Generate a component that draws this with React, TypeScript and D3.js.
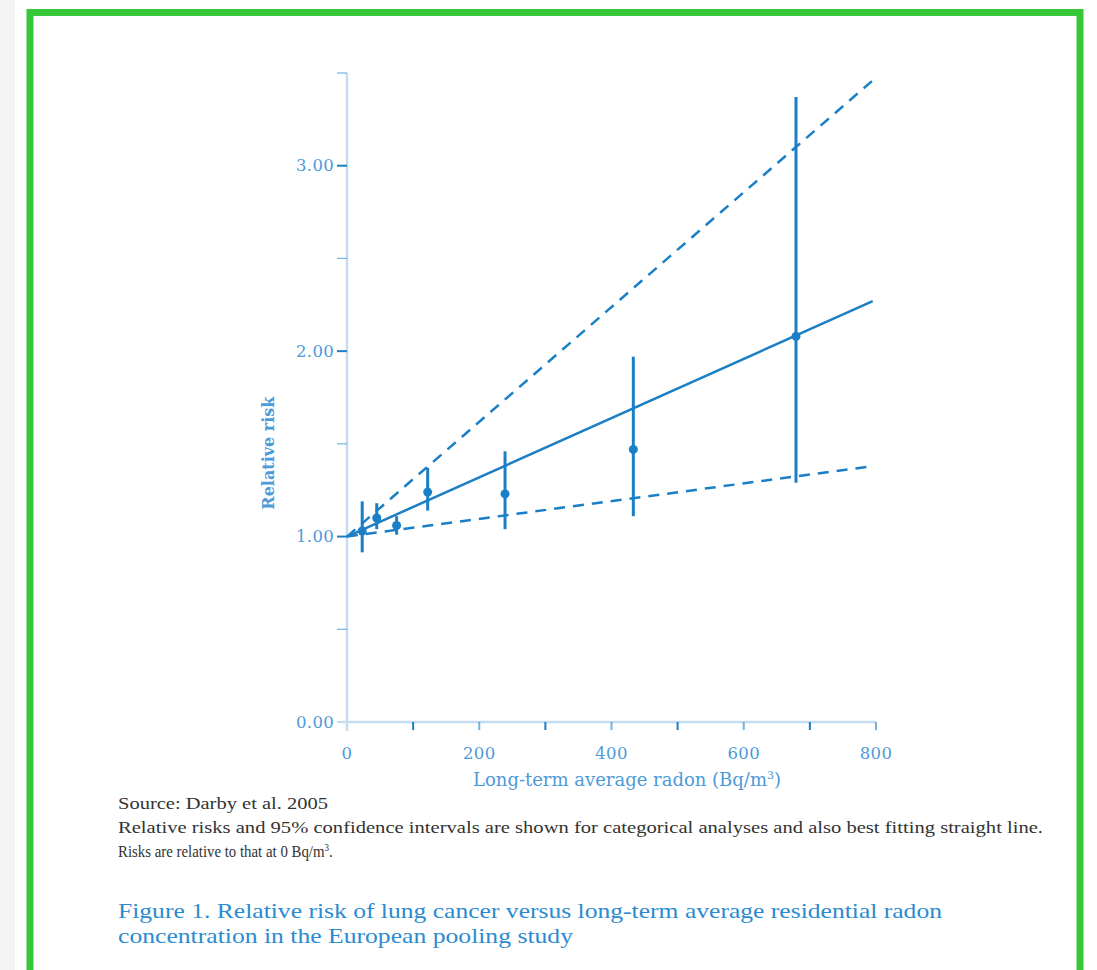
import React from "react";
import * as d3 from "d3";

const W = 1097;
const H = 970;

// Categorical estimates: radon (Bq/m3), RR, lower 95% CI, upper 95% CI
const radon = [23, 45, 75, 122, 239, 433, 679];
const rr = [1.03, 1.1, 1.06, 1.24, 1.23, 1.47, 2.08];
const ciLow = [0.915, 1.04, 1.01, 1.14, 1.04, 1.11, 1.29];
const ciHigh = [1.19, 1.18, 1.11, 1.37, 1.46, 1.97, 3.37];

// Best fitting line and its CI (endpoints)
const fitX = [0, 795];
const fitMid = [1.0, 2.27];
const fitUpper = [1.0, 3.46];
const fitLower = [1.0, 1.38];

const yTicks = [0, 0.5, 1, 1.5, 2, 2.5, 3, 3.5];
const yLabelled = [0, 1, 2, 3];
const xTicks = [0, 100, 200, 300, 400, 500, 600, 700, 800];
const xLabelled = [0, 200, 400, 600, 800];

const captionLines = [
  "Source: Darby et al. 2005",
  "Relative risks and 95% confidence intervals are shown for categorical analyses and also best fitting straight line.",
];
const titleLines = [
  "Figure 1. Relative risk of lung cancer versus long-term average residential radon",
  "concentration in the European pooling study",
];

const BLUE = "#1b7fc6";
const AXIS = "#c6dcf0";
const LABEL = "#4d9ad8";

export default function App() {
  const x = d3.scaleLinear().domain([0, 800]).range([347, 876]);
  const y = d3.scaleLinear().domain([0, 3.5]).range([722, 73]);
  const line = d3
    .line<number>()
    .x((_, i) => x(fitX[i]))
    .y((d) => y(d));

  const serif = "'Liberation Serif', 'DejaVu Serif', serif";
  const wide = "'DejaVu Serif', serif";

  return (
    <svg
      width={W}
      height={H}
      style={{ position: "absolute", left: 0, top: 0, background: "#fff" }}
      fontFamily={serif}
    >
      <rect x={0} y={0} width={15} height={H} fill="#f4f4f4" />
      <rect x={30} y={12.5} width={1050} height={H + 20} fill="none" stroke="#36c836" strokeWidth={7} />

      {/* axes */}
      <line x1={x(0)} x2={x(0)} y1={y(3.5)} y2={731} stroke={AXIS} strokeWidth={2.5} />
      <line x1={342} x2={x(800)} y1={y(0)} y2={y(0)} stroke={AXIS} strokeWidth={2.5} />
      {yTicks.map((t) => (
        <line key={"yt" + t} x1={x(0) - 10} x2={x(0)} y1={y(t)} y2={y(t)} stroke={t === 0 ? AXIS : BLUE} strokeWidth={t % 1 === 0 ? 2 : 1.2} opacity={t % 1 === 0 ? 1 : 0.6} />
      ))}
      {yLabelled.map((t) => (
        <text key={"yl" + t} x={334} y={y(t)} dy="0.35em" textAnchor="end" fontSize={16.5} letterSpacing={0.3} fontFamily={wide} fill={LABEL}>
          {t.toFixed(2)}
        </text>
      ))}
      {xTicks.map((t) => (
        <line key={"xt" + t} x1={x(t)} x2={x(t)} y1={y(0)} y2={y(0) + 8} stroke={t === 0 ? AXIS : BLUE} strokeWidth={2} opacity={t % 200 === 0 ? 0.6 : 1} />
      ))}
      {xLabelled.map((t) => (
        <text key={"xl" + t} x={x(t)} y={759} textAnchor="middle" fontSize={16.5} letterSpacing={0.3} fontFamily={wide} fill={LABEL}>
          {t}
        </text>
      ))}
      <text x={627} y={786} textAnchor="middle" fontSize={18} fontFamily={wide} fill={LABEL}>
        Long-term average radon (Bq/m
        <tspan fontSize={11} dy={-7}>3</tspan>
        <tspan dy={7}>)</tspan>
      </text>
      <text
        transform={`translate(274, ${y(1.45)}) rotate(-90)`}
        textAnchor="middle"
        fontSize={16}
        fontWeight="bold"
        fontFamily={wide}
        fill={LABEL}
      >
        Relative risk
      </text>

      {/* fit lines */}
      <path d={line(fitUpper) || ""} fill="none" stroke={BLUE} strokeWidth={2.5} strokeDasharray="11 8" />
      <path d={line(fitLower) || ""} fill="none" stroke={BLUE} strokeWidth={2.5} strokeDasharray="11 8" />
      <path d={line(fitMid) || ""} fill="none" stroke={BLUE} strokeWidth={2.5} />

      {/* error bars */}
      {radon.map((r, i) => (
        <g key={"e" + i}>
          <line x1={x(r)} x2={x(r)} y1={y(ciLow[i])} y2={y(ciHigh[i])} stroke={BLUE} strokeWidth={3} />
          <circle cx={x(r)} cy={y(rr[i])} r={4.5} fill={BLUE} />
        </g>
      ))}

      {/* caption */}
      <text x={118} y={809} fontSize={16.5} fill="#333" textLength={210} lengthAdjust="spacingAndGlyphs">
        {captionLines[0]}
      </text>
      <text x={118} y={833} fontSize={16.5} fill="#333" textLength={925} lengthAdjust="spacingAndGlyphs">
        {captionLines[1]}
      </text>
      <text transform="translate(118, 857) scale(0.9, 1)" fontSize={16.5} fill="#333">
        Risks are relative to that at 0 Bq/m
        <tspan fontSize={10} dy={-6}>3</tspan>
        <tspan dy={6}>.</tspan>
      </text>
      <text x={118} y={918} fontSize={21} fill="#2b8bd0" textLength={824} lengthAdjust="spacingAndGlyphs">
        {titleLines[0]}
      </text>
      <text x={118} y={943} fontSize={21} fill="#2b8bd0" textLength={455} lengthAdjust="spacingAndGlyphs">
        {titleLines[1]}
      </text>
    </svg>
  );
}
